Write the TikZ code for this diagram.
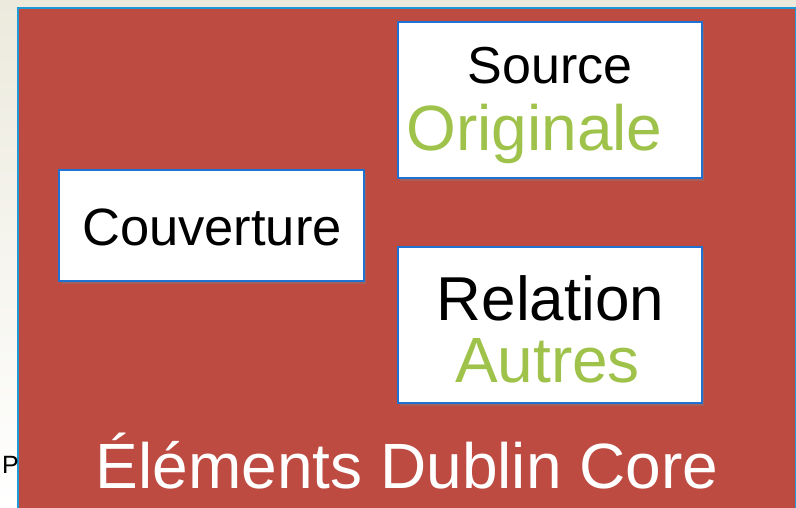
\documentclass[tikz,border=0pt]{standalone}
\usepackage{fontspec}
\setmainfont{Liberation Sans}
\usepackage{xcolor}
\usetikzlibrary{shadows}
\definecolor{dcred}{HTML}{BE4B42}
\definecolor{dcframe}{HTML}{1E9BD7}
\definecolor{dcblue}{HTML}{1F72D2}
\definecolor{dcgreen}{HTML}{9FC24B}
\definecolor{dccream}{HTML}{ECEADD}
\tikzset{
	panel/.style={draw=dcframe, fill=dcred, line width=2pt, anchor=north west},
	block/.style={draw=dcblue, fill=white, line width=1.5pt, drop shadow={shadow xshift=2pt, shadow yshift=-3pt, opacity=0.4}},
	label/.style={inner sep=0pt, anchor=base},
	term/.style={label, text=black},
	value/.style={label, text=dcgreen}
}

\begin{document}
\begin{tikzpicture}[x=1pt, y=-1pt]
		\useasboundingbox (0,0) rectangle (796,508);
		% Slide background
		\shade[top color=dccream, bottom color=white] (0,0) rectangle (796,508);
		
		% Red panel
		\node[panel, minimum width=778pt, minimum height=503pt] (panel) at (17,7) {};
		
		% Source
		\node[block, minimum width=304pt, minimum height=156pt] (source) at (550,100) {};
		\node[term, font=\fontsize{52}{60}\selectfont] (sourcename) at (550,84) {Source};
		\node[value, font=\fontsize{64}{70}\selectfont] (original) at (534.5,151) {Originale};
		
		% Couverture
		\node[block, minimum width=305pt, minimum height=111pt] (coverage) at (211.5,225.5) {};
		\node[term, font=\fontsize{52.5}{60}\selectfont] (coveragename) at (212,245) {Couverture};
		
		% Relation
		\node[block, minimum width=304pt, minimum height=156pt] (relation) at (550,325) {};
		\node[term, font=\fontsize{62}{70}\selectfont] (relationname) at (550.5,320) {Relation};
		\node[value, font=\fontsize{64}{70}\selectfont] (others) at (547.5,382) {Autres};
		
		% Title
		\node[label, text=white, font=\fontsize{64}{72}\selectfont] (title) at (407,488) {Éléments Dublin Core};
		\node[inner sep=0pt, anchor=base west, font=\fontsize{25}{30}\selectfont] (cutoff) at (2,473) {P};
	\end{tikzpicture}
\end{document}
